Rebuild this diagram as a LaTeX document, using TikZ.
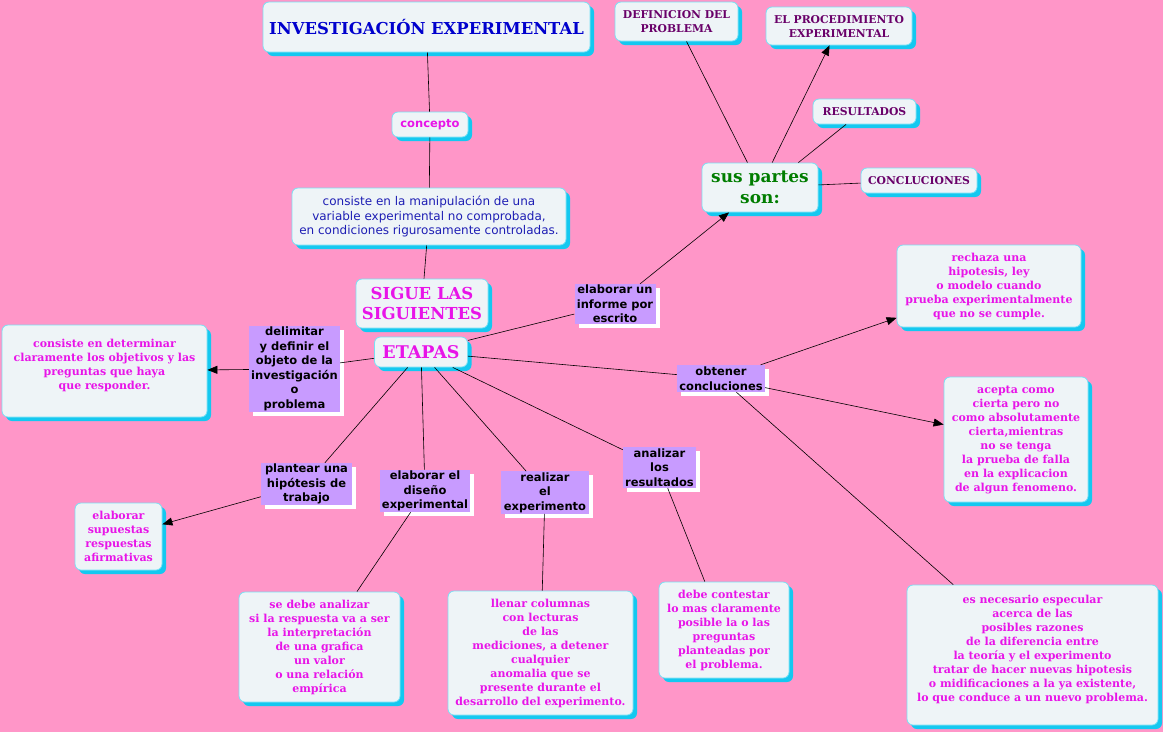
\documentclass[tikz,border=0pt]{standalone}
\usepackage{fontspec}
\setmainfont{DejaVu Serif}
\setsansfont{DejaVu Sans}
\usetikzlibrary{shapes,arrows.meta,shadows}

\definecolor{fondo}{RGB}{255,150,200}
\definecolor{cfill}{RGB}{238,244,247}
\definecolor{cborde}{RGB}{120,225,245}
\definecolor{csombra}{RGB}{20,200,240}
\definecolor{lila}{RGB}{200,155,255}
\definecolor{magenta2}{RGB}{232,20,232}
\definecolor{azult}{RGB}{0,0,205}
\definecolor{azuld}{RGB}{30,30,180}
\definecolor{morado}{RGB}{105,0,105}
\definecolor{verde}{RGB}{0,125,0}

\begin{document}
\begin{tikzpicture}[
        x=1pt, y=-1pt,
        concept/.style={rectangle, rounded corners=6pt, draw=cborde, line width=0.8pt, fill=cfill, align=center, inner sep=3pt, drop shadow={shadow xshift=4pt, shadow yshift=-4pt, fill=csombra, opacity=1}},
        mag/.style={concept, text=magenta2, font=\bfseries\fontsize{11}{14}\selectfont},
        parte/.style={concept, text=morado, font=\bfseries\fontsize{10.8}{14}\selectfont},
        big/.style={concept, text=magenta2, font=\bfseries\fontsize{16.5}{20.5}\selectfont},
        link/.style={rectangle, fill=lila, align=center, inner sep=1pt, font=\sffamily\bfseries\fontsize{11.5}{14.5}\selectfont, drop shadow={shadow xshift=4pt, shadow yshift=-4pt, fill=white, opacity=1}},
        conn/.style={draw, line width=0.6pt},
        arrow/.style={conn, -{Triangle[length=10pt,width=8pt]}}
    ]
    \fill[fondo] (0,0) rectangle (1163,732);
    \useasboundingbox (0,0) rectangle (1163,732);

    % Top - title and concept
    \node[concept, text=azult, font=\bfseries\fontsize{16.4}{19}\selectfont, minimum width=327pt, minimum height=50pt] (title) at (426.5,27) {INVESTIGACIÓN EXPERIMENTAL};
    \node[concept, text=magenta2, font=\sffamily\bfseries\fontsize{11.5}{14}\selectfont, minimum width=76pt, minimum height=25pt] (concepto) at (430,124.5) {concepto};
    \node[concept, text=azuld, font=\sffamily\fontsize{12}{14.7}\selectfont, minimum width=274pt, minimum height=57pt] (defn) at (429,216.5) {consiste en la manipulación de una\\variable experimental no comprobada,\\en condiciones rigurosamente controladas.};
    \node[big, minimum width=132pt, minimum height=49pt] (sigue) at (422,303.5) {SIGUE LAS\\SIGUIENTES};
    \node[big, font=\bfseries\fontsize{17.5}{20.5}\selectfont, minimum width=93pt, minimum height=30pt] (etapas) at (421,352) {ETAPAS};

    % Parts of the report
    \node[link, minimum width=81pt, minimum height=39pt] (informe) at (615,304) {elaborar un\\informe por\\escrito};
    \node[concept, text=verde, font=\bfseries\fontsize{17}{21}\selectfont, minimum width=116pt, minimum height=49pt] (partes) at (760,187.5) {sus partes\\son:};
    \node[parte, minimum width=123pt, minimum height=39pt] (defprob) at (676.5,21.5) {DEFINICION DEL\\PROBLEMA};
    \node[parte, minimum width=146pt, minimum height=38pt] (proced) at (839,26) {EL PROCEDIMIENTO\\EXPERIMENTAL};
    \node[parte, minimum width=103pt, minimum height=25pt] (result) at (864.5,111.5) {RESULTADOS};
    \node[parte, minimum width=116pt, minimum height=25pt] (concl) at (919,180.5) {CONCLUCIONES};

    % Stages
    \node[link, minimum width=91pt, minimum height=86pt] (delimitar) at (294.5,369) {delimitar\\y definir el\\objeto de la\\investigación\\o\\problema};
    \node[mag, minimum width=205pt, minimum height=92pt] (objetivos) at (104.5,371) {consiste en determinar\\claramente los objetivos y las\\preguntas que haya\\que responder.\\ \mbox{}};
    \node[link, minimum width=91pt, minimum height=42pt] (plantear) at (306.5,484) {plantear una\\hipótesis de\\trabajo};
    \node[mag, minimum width=87pt, minimum height=67pt] (supuestas) at (118.5,536.5) {elaborar\\supuestas\\respuestas\\afirmativas};
    \node[link, minimum width=90pt, minimum height=42pt] (diseno) at (425,491) {elaborar el\\diseño\\experimental};
    \node[mag, minimum width=161pt, minimum height=110pt] (grafica) at (319.5,647) {se debe analizar\\si la respuesta va a ser\\la interpretación\\de una grafica\\un valor\\o una relación\\empírica};
    \node[link, minimum width=88pt, minimum height=41pt] (realizar) at (545,492.5) {realizar\\el\\experimento};
    \node[mag, minimum width=185pt, minimum height=124pt] (llenar) at (540.5,653) {llenar columnas\\con lecturas\\de las\\mediciones, a detener\\cualquier\\anomalia que se\\presente durante el\\desarrollo del experimento.};
    \node[link, minimum width=73pt, minimum height=41pt] (analizar) at (659.5,467.5) {analizar\\los\\resultados};
    \node[mag, minimum width=130pt, minimum height=96pt] (contestar) at (724,630) {debe contestar\\lo mas claramente\\posible la o las\\preguntas\\planteadas por\\el problema.};
    \node[link, minimum width=88pt, minimum height=27pt] (obtener) at (721,378.5) {obtener\\concluciones};
    \node[mag, minimum width=184pt, minimum height=82pt] (rechaza) at (989,286) {rechaza una\\hipotesis, ley\\o modelo cuando\\prueba experimentalmente\\que no se cumple.};
    \node[mag, minimum width=144pt, minimum height=125pt] (acepta) at (1016,439.5) {acepta como\\cierta pero no\\como absolutamente\\cierta,mientras\\no se tenga\\la prueba de falla\\en la explicacion\\de algun fenomeno.};
    \node[mag, minimum width=251pt, minimum height=140pt] (necesario) at (1032.5,655) {es necesario especular\\acerca de las\\posibles razones\\de la diferencia entre\\la teoría y el experimento\\tratar de hacer nuevas hipotesis\\o midificaciones a la ya existente,\\lo que conduce a un nuevo problema.\\ \mbox{}};

    % Connectors
    \draw[conn] (title) -- (concepto);
    \draw[conn] (concepto) -- (defn);
    \draw[conn] (defn) -- (sigue);
    \draw[conn] (etapas) -- (informe);
    \draw[arrow] (informe) -- (partes);
    \draw[conn] (partes) -- (defprob);
    \draw[arrow] (partes) -- (proced);
    \draw[conn] (partes.33) -- (result.-145);
    \draw[conn] (partes) -- (concl);
    \draw[conn] (etapas) -- (delimitar);
    \draw[arrow] (delimitar) -- (objetivos);
    \draw[conn] (etapas) -- (plantear);
    \draw[arrow] (plantear) -- (supuestas);
    \draw[conn] (etapas) -- (diseno);
    \draw[conn] (diseno) -- (grafica);
    \draw[conn] (etapas) -- (realizar);
    \draw[conn] (realizar) -- (llenar);
    \draw[conn] (etapas) -- (analizar);
    \draw[conn] (analizar) -- (contestar);
    \draw[conn] (etapas) -- (obtener);
    \draw[arrow] (obtener) -- (rechaza);
    \draw[arrow] (obtener) -- (acepta);
    \draw[conn] (obtener) -- (necesario);

    \end{tikzpicture}
\end{document}
